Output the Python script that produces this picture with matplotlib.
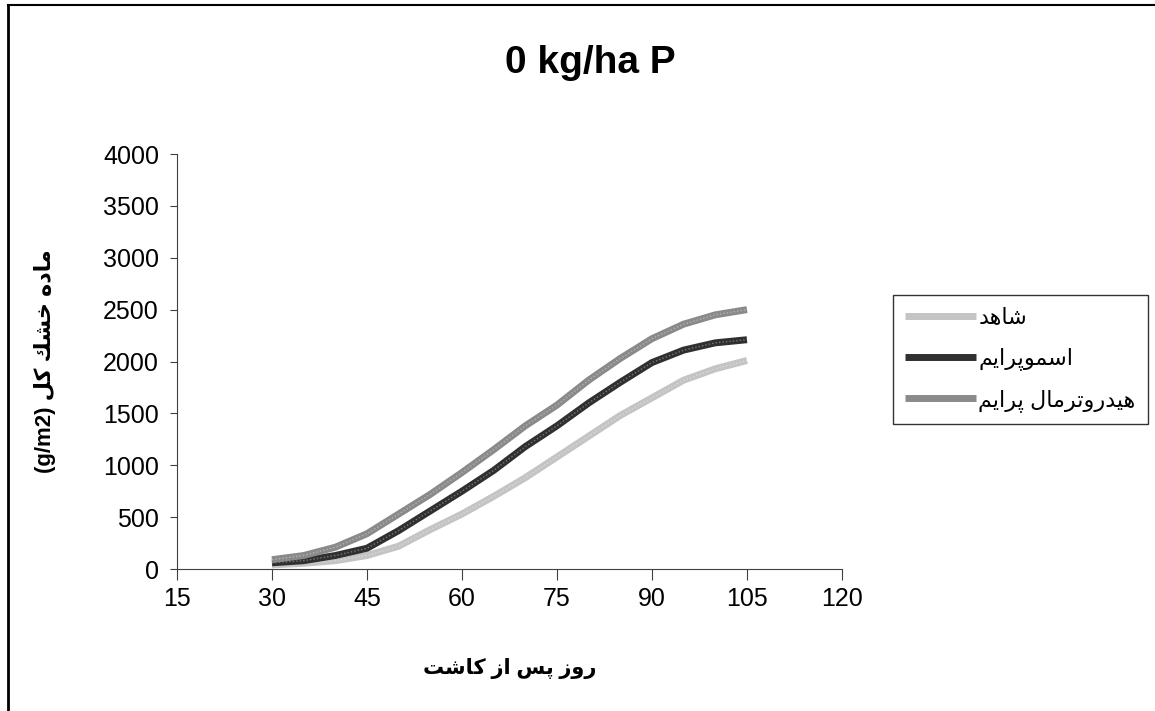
import matplotlib

matplotlib.use("Agg")
import matplotlib.pyplot as plt
from matplotlib.lines import Line2D

# --- data (every 5 days after sowing) ---
days = [30, 35, 40, 45, 50, 55, 60, 65, 70, 75, 80, 85, 90, 95, 100, 105]
control = [40, 55, 80, 130, 220, 380, 530, 700, 880, 1080, 1280, 1480, 1650, 1820, 1930, 2010]
osmoprime = [60, 80, 130, 200, 370, 560, 750, 950, 1180, 1380, 1600, 1800, 1990, 2110, 2180, 2210]
hydroprime = [90, 130, 210, 340, 530, 720, 930, 1150, 1380, 1580, 1820, 2030, 2220, 2360, 2450, 2500]

series_names = ["شاهد", "اسموپرایم", "هیدروترمال پرایم"]
title = "0 kg/ha P"
xlabel = "روز پس از کاشت"
ylabel_fa = "ماده خشك كل"
ylabel_unit = "(g/m2)"
xticks = [15, 30, 45, 60, 75, 90, 105, 120]
yticks = [0, 500, 1000, 1500, 2000, 2500, 3000, 3500, 4000]

# Arabic presentation forms: isolated, final, initial, medial
FORMS = {
    "ا": ("\uFE8D", "\uFE8E", None, None),
    "د": ("\uFEA9", "\uFEAA", None, None),
    "ر": ("\uFEAD", "\uFEAE", None, None),
    "ز": ("\uFEAF", "\uFEB0", None, None),
    "و": ("\uFEED", "\uFEEE", None, None),
    "ه": ("\uFEE9", "\uFEEA", "\uFEEB", "\uFEEC"),
    "ش": ("\uFEB5", "\uFEB6", "\uFEB7", "\uFEB8"),
    "س": ("\uFEB1", "\uFEB2", "\uFEB3", "\uFEB4"),
    "م": ("\uFEE1", "\uFEE2", "\uFEE3", "\uFEE4"),
    "ت": ("\uFE95", "\uFE96", "\uFE97", "\uFE98"),
    "ل": ("\uFEDD", "\uFEDE", "\uFEDF", "\uFEE0"),
    "خ": ("\uFEA5", "\uFEA6", "\uFEA7", "\uFEA8"),
    "ك": ("\uFED9", "\uFEDA", "\uFEDB", "\uFEDC"),
    "ک": ("\uFB8E", "\uFB8F", "\uFB90", "\uFB91"),
    "ی": ("\uFBFC", "\uFBFD", "\uFEF3", "\uFEF4"),
    "پ": ("\uFB56", "\uFB57", "\uFB58", "\uFB59"),
}


def shape_word(word):
    glyphs = []
    for i, ch in enumerate(word):
        f = FORMS.get(ch)
        if f is None:
            glyphs.append(ch)
            continue
        prev = word[i - 1] if i > 0 else None
        nxt = word[i + 1] if i + 1 < len(word) else None
        join_prev = prev in FORMS and FORMS[prev][2] is not None
        join_next = nxt in FORMS and f[2] is not None
        if join_prev and join_next:
            glyphs.append(f[3])
        elif join_prev:
            glyphs.append(f[1])
        elif join_next:
            glyphs.append(f[2])
        else:
            glyphs.append(f[0])
    return "".join(reversed(glyphs))


def rtl(text):
    return " ".join(shape_word(w) for w in reversed(text.split(" ")))


FONT = ["Liberation Sans", "DejaVu Sans"]
plt.rcParams["font.family"] = FONT

fig = plt.figure(figsize=(11.55, 7.11), dpi=100)
ax = fig.add_axes([0.1532, 0.1997, 0.729 - 0.1532, 0.7834 - 0.1997])

colors = ["#c4c4c4", "#303030", "#8a8a8a"]
for vals, name, c in zip([control, osmoprime, hydroprime], series_names, colors):
    ax.plot(days, vals, color=c, lw=5.0, solid_capstyle="butt", label=rtl(name))
    # light dotted overlay gives the dithered look of the original pattern lines
    ax.plot(days, vals, color="white", lw=1.0, alpha=0.35, ls=(0, (1, 1.5)))

ax.set_xlim(15, 120)
ax.set_ylim(0, 4000)
ax.set_xticks(xticks)
ax.set_yticks(yticks)
for side in ("top", "right"):
    ax.spines[side].set_visible(False)
for side in ("left", "bottom"):
    ax.spines[side].set_color("#404040")
ax.tick_params(axis="x", direction="out", length=8, color="#404040", labelsize=18, pad=5)
ax.tick_params(axis="y", direction="out", length=5, color="#404040", labelsize=18, pad=8)

ax.set_xlabel(rtl(xlabel), fontsize=15, fontweight="bold", labelpad=34)
ax.set_ylabel(ylabel_unit + " " + rtl(ylabel_fa), fontsize=16, fontweight="bold", labelpad=34)
fig.text(0.511, 0.912, title, ha="center", va="center", fontsize=28, fontweight="bold")

leg = ax.legend(loc="center left", bbox_to_anchor=(0.773, 0.494), bbox_transform=fig.transFigure,
                frameon=True, fancybox=False, edgecolor="black", fontsize=16,
                handlelength=3.2, handletextpad=0.1, labelspacing=0.85, borderpad=0.55,
                borderaxespad=0)
leg.get_frame().set_linewidth(1.0)

# chart border (top and left edges visible in reference)
fig.add_artist(Line2D([0.0065, 1.0], [0.993, 0.993], transform=fig.transFigure, color="black", lw=1.5))
fig.add_artist(Line2D([0.0065, 0.0065], [0.0, 0.993], transform=fig.transFigure, color="black", lw=2.0))

fig.savefig("out.png", dpi=100)
